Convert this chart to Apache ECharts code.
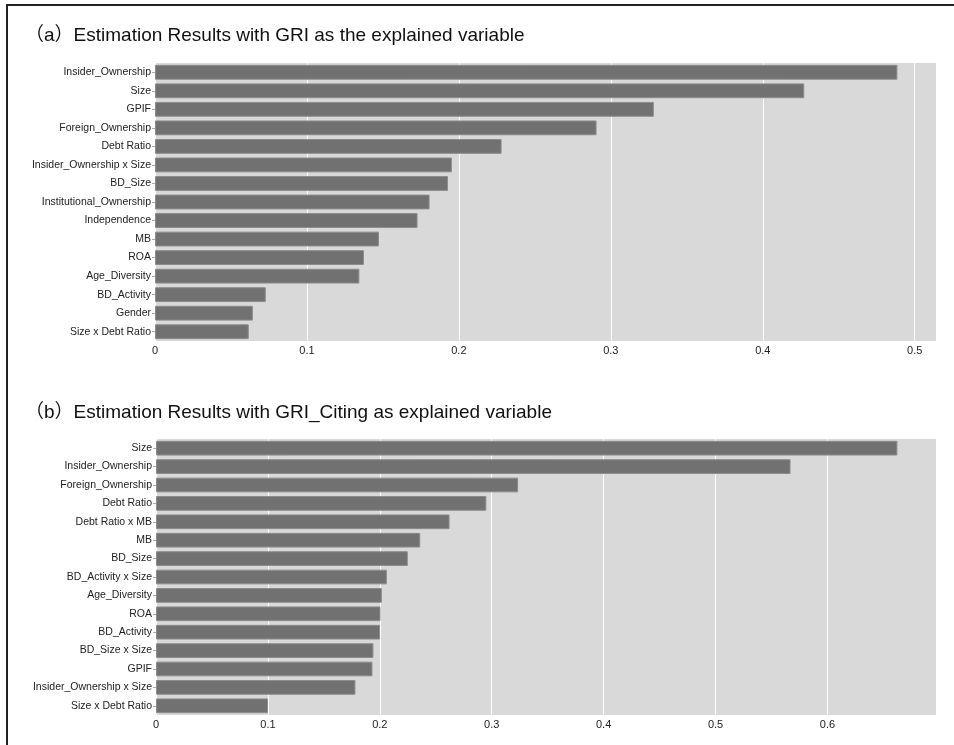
<!DOCTYPE html>
<html>
<head>
<meta charset="utf-8">
<script src="https://cdn.jsdelivr.net/npm/echarts@6/dist/echarts.min.js"></script>
<style>
  html, body { margin: 0; padding: 0; background: #fff; }
  #chart { width: 954px; height: 745px; }
</style>
</head>
<body>
<div id="chart"></div>
<script>
// Panel (a): GRI as the explained variable
const categoriesA = [
  'Insider_Ownership', 'Size', 'GPIF', 'Foreign_Ownership', 'Debt Ratio',
  'Insider_Ownership x Size', 'BD_Size', 'Institutional_Ownership', 'Independence',
  'MB', 'ROA', 'Age_Diversity', 'BD_Activity', 'Gender', 'Size x Debt Ratio'
];
const valuesA = [
  0.4886, 0.4273, 0.3283, 0.2906, 0.2281,
  0.1954, 0.1928, 0.1807, 0.1728,
  0.1474, 0.1375, 0.1345, 0.0729, 0.0644, 0.0617
];

// Panel (b): GRI_Citing as explained variable
const categoriesB = [
  'Size', 'Insider_Ownership', 'Foreign_Ownership', 'Debt Ratio', 'Debt Ratio x MB',
  'MB', 'BD_Size', 'BD_Activity x Size', 'Age_Diversity', 'ROA',
  'BD_Activity', 'BD_Size x Size', 'GPIF', 'Insider_Ownership x Size', 'Size x Debt Ratio'
];
const valuesB = [
  0.6625, 0.5670, 0.3236, 0.2952, 0.2623,
  0.2361, 0.2250, 0.2063, 0.2018, 0.2006,
  0.2002, 0.1943, 0.1934, 0.1782, 0.1000
];

const titleA = '（a）Estimation Results with GRI as the explained variable';
const titleB = '（b）Estimation Results with GRI_Citing as explained variable';

const FONT = '"Liberation Sans", Arial, "Noto Sans CJK JP", sans-serif';

function valueAxis(gridIndex, max) {
  return {
    type: 'value',
    gridIndex: gridIndex,
    min: 0,
    max: max,
    interval: 0.1,
    axisLine: { show: false },
    axisTick: { show: false },
    axisLabel: {
      showMaxLabel: false,
      color: '#222',
      fontSize: 11,
      fontFamily: FONT,
      margin: 4,
      formatter: v => (Math.round(v * 10) / 10).toString()
    },
    splitLine: { show: true, lineStyle: { color: '#ffffff', width: 1 } }
  };
}

function categoryAxis(gridIndex, cats) {
  return {
    type: 'category',
    gridIndex: gridIndex,
    data: cats,
    inverse: true,
    axisLine: { show: false },
    axisTick: { show: true, alignWithLabel: true, length: 3, lineStyle: { color: '#aaaaaa' } },
    axisLabel: { color: '#222', fontSize: 10.5, fontFamily: FONT, margin: 4 },
    splitLine: { show: false }
  };
}

const barStyle = {
  color: '#717171',
  borderColor: '#8c8c8c',
  borderWidth: 1
};

const chart = echarts.init(document.getElementById('chart'), null, { renderer: 'canvas' });

chart.setOption({
  backgroundColor: '#ffffff',
  animation: false,
  title: [
    {
      text: titleA,
      left: 20, top: 21,
      textStyle: { fontSize: 19, fontWeight: 'normal', color: '#111', fontFamily: FONT }
    },
    {
      text: titleB,
      left: 20, top: 398,
      textStyle: { fontSize: 19, fontWeight: 'normal', color: '#111', fontFamily: FONT }
    }
  ],
  graphic: [
    {
      type: 'rect',
      shape: { x: 7, y: 5, width: 1000, height: 800 },
      style: { fill: 'none', stroke: '#222', lineWidth: 2 },
      silent: true,
      z: 100
    }
  ],
  grid: [
    { left: 155, right: 18, top: 63, height: 278, backgroundColor: '#d9d9d9', show: true, borderWidth: 0 },
    { left: 156, right: 18, top: 439, height: 276, backgroundColor: '#d9d9d9', show: true, borderWidth: 0 }
  ],
  xAxis: [valueAxis(0, 0.514), valueAxis(1, 0.697)],
  yAxis: [categoryAxis(0, categoriesA), categoryAxis(1, categoriesB)],
  series: [
    {
      type: 'bar',
      xAxisIndex: 0, yAxisIndex: 0,
      data: valuesA,
      barCategoryGap: '20%',
      itemStyle: barStyle
    },
    {
      type: 'bar',
      xAxisIndex: 1, yAxisIndex: 1,
      data: valuesB,
      barCategoryGap: '20%',
      itemStyle: barStyle
    }
  ]
});
</script>
</body>
</html>
